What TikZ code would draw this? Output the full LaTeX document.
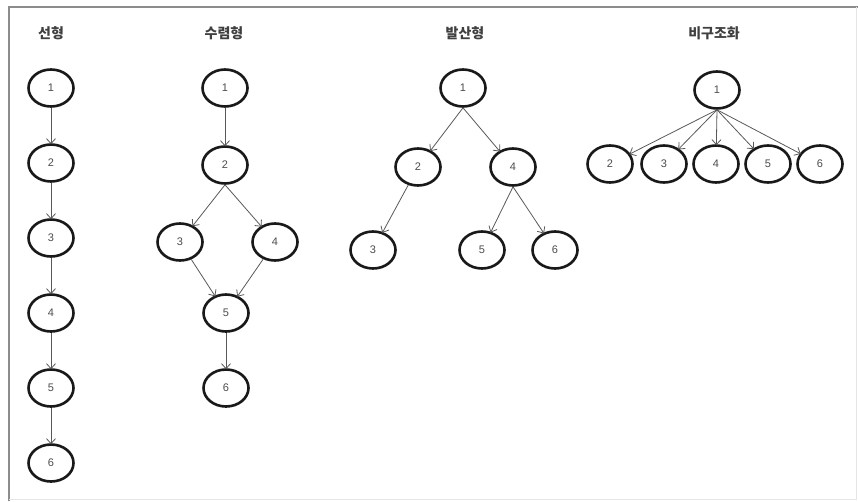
\documentclass[tikz,border=0pt]{standalone}
\usepackage{fontspec}
\setmainfont{Liberation Sans}
\newfontfamily\kr{Noto Sans CJK KR}
\usetikzlibrary{shapes.geometric,arrows.meta}
\begin{document}
\begin{tikzpicture}[x=1pt,y=-1pt,
  nd/.style={ellipse,draw=black!90,line width=2.6pt,minimum width=45pt,minimum height=37pt,inner sep=0pt,font=\fontsize{11}{13}\selectfont,text=black!70},
  ttl/.style={font=\kr\bfseries\fontsize{14}{16}\selectfont,text=black!75},
  ar/.style={draw=black!65,line width=0.8pt,-{Straight Barb[length=5pt,width=9pt]},shorten >=-1pt}]
\useasboundingbox (0,0) rectangle (858,501);
\fill[white] (0,0) rectangle (858,501);
\draw[black!45,line width=2pt] (9,501) -- (9,7) -- (858,7);
\draw[black!10,line width=1pt] (856,7) -- (856,499) -- (9,499);
% titles
\node[ttl] (t1) at (51,33) {선형};
\node[ttl] (t2) at (224,33) {수렴형};
\node[ttl] (t3) at (465,33) {발산형};
\node[ttl] (t4) at (714,33) {비구조화};
% linear
\node[nd] (a1) at (51,88) {1};
\node[nd] (a2) at (51,163) {2};
\node[nd] (a3) at (51,238) {3};
\node[nd] (a4) at (51,313) {4};
\node[nd] (a5) at (51,388) {5};
\node[nd] (a6) at (51,463) {6};
\draw[ar] (a1) -- (a2);
\draw[ar] (a2) -- (a3);
\draw[ar] (a3) -- (a4);
\draw[ar] (a4) -- (a5);
\draw[ar] (a5) -- (a6);
% converging
\node[nd] (b1) at (225,88) {1};
\node[nd] (b2) at (225,165) {2};
\node[nd] (b3) at (180,242) {3};
\node[nd] (b4) at (275,242) {4};
\node[nd] (b5) at (226,313) {5};
\node[nd] (b6) at (226,388) {6};
\draw[ar] (b1) -- (b2);
\draw[ar] (b2.south) -- (b3);
\draw[ar] (b2.south) -- (b4);
\draw[ar] (b3) -- (b5);
\draw[ar] (b4) -- (b5);
\draw[ar] (b5) -- (b6);
% diverging
\node[nd] (c1) at (463,88) {1};
\node[nd] (c2) at (418,167) {2};
\node[nd] (c4) at (513,167) {4};
\node[nd] (c3) at (373,250) {3};
\node[nd] (c5) at (482,250) {5};
\node[nd] (c6) at (555,250) {6};
\draw[ar] (c1.south) -- (c2);
\draw[ar] (c1.south) -- (c4);
\draw[ar] (c2) -- (c3);
\draw[ar] (c4.south) -- (c5);
\draw[ar] (c4.south) -- (c6);
% unstructured
\node[nd] (d1) at (717,90) {1};
\node[nd] (d2) at (610,164) {2};
\node[nd] (d3) at (664,164) {3};
\node[nd] (d4) at (716,164) {4};
\node[nd] (d5) at (768,164) {5};
\node[nd] (d6) at (820,164) {6};
\foreach \k in {2,...,6} {\draw[ar] (d1.south) -- (d\k);}
\end{tikzpicture}
\end{document}
